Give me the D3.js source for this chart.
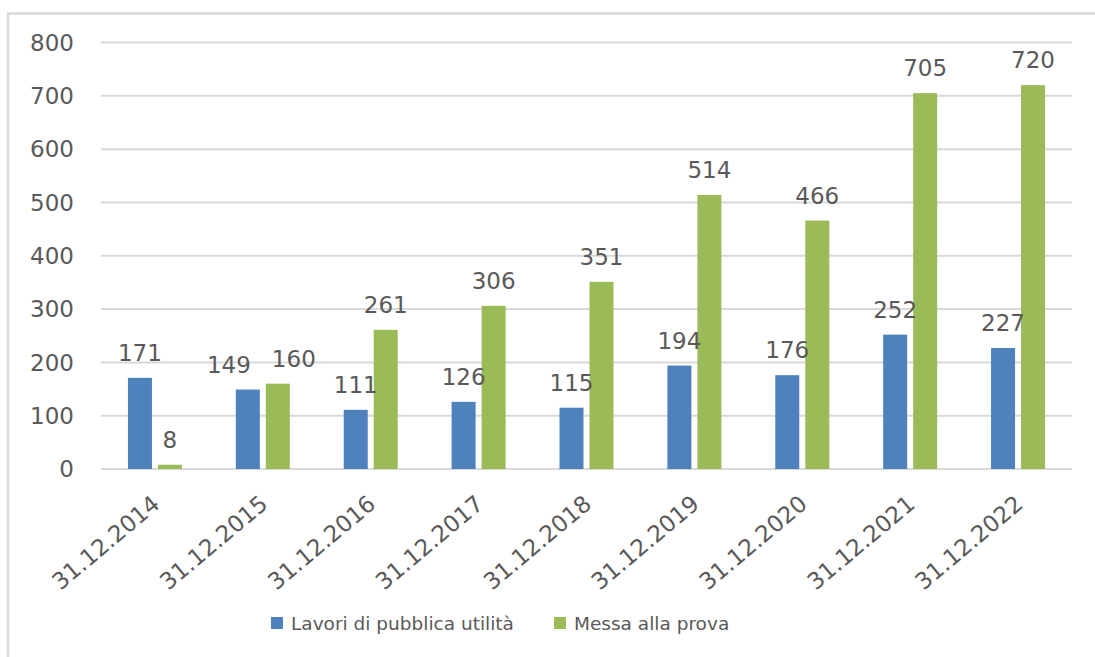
<!DOCTYPE html>
<html>
<head>
<meta charset="utf-8">
<script src="https://cdn.jsdelivr.net/npm/d3@7"></script>
<style>
  body { margin: 0; background: #fff; }
  text { font-family: "DejaVu Sans", sans-serif; fill: #595959; }
</style>
</head>
<body>
<div id="chart"></div>
<script>
// data
var dates = ["31.12.2014", "31.12.2015", "31.12.2016", "31.12.2017", "31.12.2018",
             "31.12.2019", "31.12.2020", "31.12.2021", "31.12.2022"];
var seriesNames = ["Lavori di pubblica utilità", "Messa alla prova"];
var lavori = [171, 149, 111, 126, 115, 194, 176, 252, 227];
var messa = [8, 160, 261, 306, 351, 514, 466, 705, 720];
var yTicks = [0, 100, 200, 300, 400, 500, 600, 700, 800];
var colors = ["#4f81bd", "#9bbb59"];

var width = 1095, height = 657;

var svg = d3.select("#chart")
    .append("svg")
    .attr("width", width)
    .attr("height", height);

// frame (only top and left edges visible)
svg.append("line")
    .attr("x1", 7).attr("x2", width)
    .attr("y1", 13.5).attr("y2", 13.5)
    .style("stroke", "#d9d9d9").style("stroke-width", 2.5);
svg.append("line")
    .attr("x1", 8).attr("x2", 8)
    .attr("y1", 13).attr("y2", height)
    .style("stroke", "#d9d9d9").style("stroke-width", 2.5);

var plotLeft = 101, plotRight = 1072;

var y = d3.scaleLinear()
    .domain([0, 800])
    .range([469, 42.5]);

var x0 = d3.scaleBand()
    .domain(dates)
    .range([plotLeft, plotRight]);

var groupW = 54;
var x1 = d3.scaleBand()
    .domain([0, 1])
    .range([x0.bandwidth() / 2 - groupW / 2, x0.bandwidth() / 2 + groupW / 2])
    .paddingInner(0.2);

// gridlines
svg.append("g")
    .selectAll("line")
    .data(yTicks)
    .enter()
    .append("line")
    .attr("x1", plotLeft)
    .attr("x2", plotRight)
    .attr("y1", d => y(d))
    .attr("y2", d => y(d))
    .style("stroke", "#d9d9d9")
    .style("stroke-width", 2);

// y tick labels
svg.append("g")
    .selectAll("text")
    .data(yTicks)
    .enter()
    .append("text")
    .attr("x", 74)
    .attr("y", d => y(d))
    .attr("dy", "0.36em")
    .attr("text-anchor", "end")
    .style("font-size", "23px")
    .text(d => d);

// bars
var rows = dates.map(function (d, i) {
    return { date: d, values: [lavori[i], messa[i]] };
});

var groups = svg.append("g")
    .selectAll("g")
    .data(rows)
    .enter()
    .append("g")
    .attr("transform", d => "translate(" + x0(d.date) + ",0)");

groups.selectAll("rect")
    .data(d => d.values.map((v, k) => ({ k: k, v: v })))
    .enter()
    .append("rect")
    .attr("x", d => x1(d.k))
    .attr("width", x1.bandwidth())
    .attr("y", d => y(d.v))
    .attr("height", d => y(0) - y(d.v))
    .style("fill", d => colors[d.k]);

// labels: when the two labels of a group would collide, push them apart sideways
groups.selectAll("text")
    .data(function (d) {
        var close = Math.abs(y(d.values[0]) - y(d.values[1])) < 22;
        return d.values.map((v, k) => ({ k: k, v: v, shift: close ? (k === 0 ? -19 : 16) : 0 }));
    })
    .enter()
    .append("text")
    .attr("x", d => x1(d.k) + x1.bandwidth() / 2 + d.shift)
    .attr("y", d => y(d.v) - 17)
    .attr("text-anchor", "middle")
    .style("font-size", "23px")
    .text(d => d.v);

// x labels, rotated
svg.append("g")
    .selectAll("text")
    .data(dates)
    .enter()
    .append("text")
    .attr("text-anchor", "end")
    .attr("transform", d => "translate(" + (x0(d) + x0.bandwidth() / 2 - 4) + ",494) rotate(-40)")
    .attr("dy", "0.7em")
    .style("font-size", "23px")
    .text(d => d);

// legend
var legendX = [271, 554];
var legend = svg.append("g")
    .selectAll("g")
    .data(seriesNames)
    .enter()
    .append("g")
    .attr("transform", (d, i) => "translate(" + legendX[i] + ",617)");

legend.append("rect")
    .attr("width", 12)
    .attr("height", 12)
    .style("fill", (d, i) => colors[i]);

legend.append("text")
    .attr("x", 20)
    .attr("y", 13)
    .style("font-size", "18.5px")
    .text(d => d);
</script>
</body>
</html>
